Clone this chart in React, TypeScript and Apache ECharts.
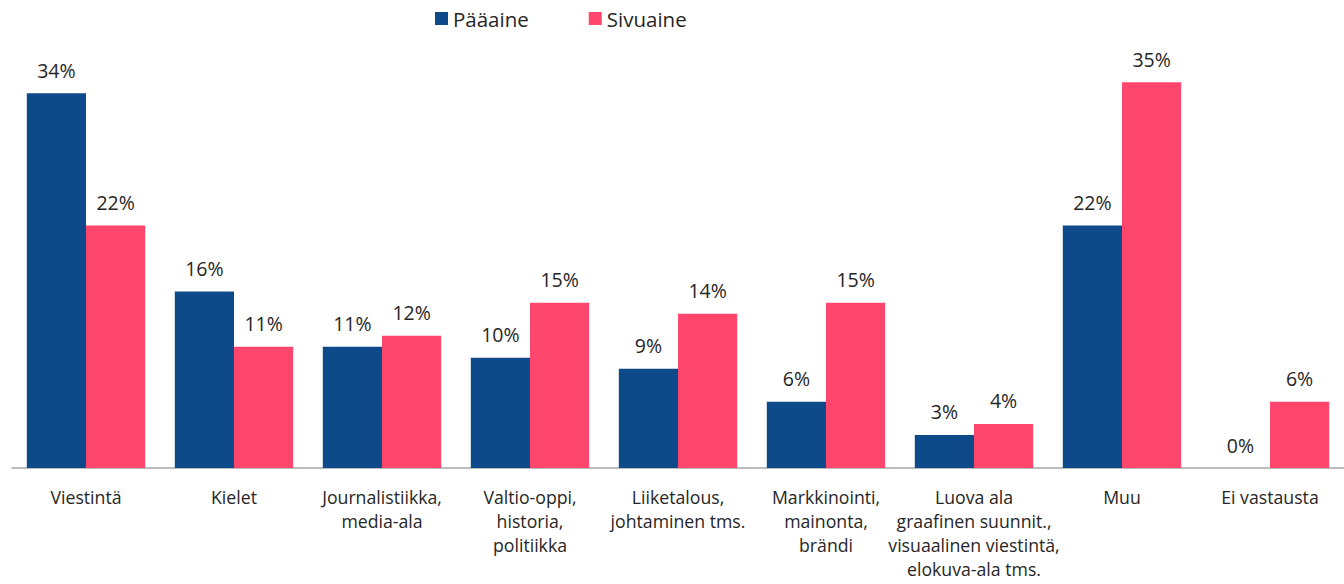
import React, { useEffect, useRef } from "react";
import * as echarts from "echarts";

const categories = [
  "Viestintä",
  "Kielet",
  "Journalistiikka,\nmedia-ala",
  "Valtio-oppi,\nhistoria,\npolitiikka",
  "Liiketalous,\njohtaminen tms.",
  "Markkinointi,\nmainonta,\nbrändi",
  "Luova ala\ngraafinen suunnit.,\nvisuaalinen viestintä,\nelokuva-ala tms.",
  "Muu",
  "Ei vastausta",
];
const paaaine = [34, 16, 11, 10, 9, 6, 3, 22, 0];
const sivuaine = [22, 11, 12, 15, 14, 15, 4, 35, 6];

const FONT = "'Open Sans', Lato, sans-serif";

export default function App() {
  const ref = useRef<HTMLDivElement>(null);
  useEffect(() => {
    document.body.style.margin = "0";
    const chart = echarts.init(ref.current!, null, { renderer: "svg" });
    const label = {
      show: true,
      position: "top" as const,
      distance: 13,
      formatter: "{c}%",
      color: "#262626",
      fontSize: 19.5,
      fontFamily: FONT,
    };
    chart.setOption({
      animation: false,
      textStyle: { fontFamily: FONT },
      legend: {
        top: 3,
        left: 430,
        itemWidth: 13,
        itemHeight: 13,
        itemGap: 60,
        icon: "rect",
        textStyle: { fontSize: 20.5, color: "#262626", fontFamily: FONT },
        data: ["Pääaine", "Sivuaine"],
      },
      grid: { left: 12, right: 0, top: 27, bottom: 116, containLabel: false },
      xAxis: {
        type: "category",
        data: categories,
        axisLine: { lineStyle: { color: "#a6a6a6", width: 1.5 } },
        axisTick: { show: false },
        axisLabel: {
          interval: 0,
          color: "#262626",
          fontSize: 17.7,
          lineHeight: 24,
          margin: 17,
          fontFamily: FONT,
          verticalAlign: "top",
        },
      },
      yAxis: {
        type: "value",
        min: 0,
        max: 40,
        show: false,
        splitLine: { show: false },
      },
      series: [
        {
          name: "Pääaine",
          type: "bar",
          data: paaaine,
          barGap: "0%",
          barCategoryGap: "20%",
          itemStyle: { color: "#0E4A8A" },
          label,
        },
        {
          name: "Sivuaine",
          type: "bar",
          data: sivuaine,
          itemStyle: { color: "#FF476E" },
          label,
        },
      ],
    });
    return () => chart.dispose();
  }, []);
  return <div ref={ref} style={{ width: 1344, height: 584 }} />;
}
